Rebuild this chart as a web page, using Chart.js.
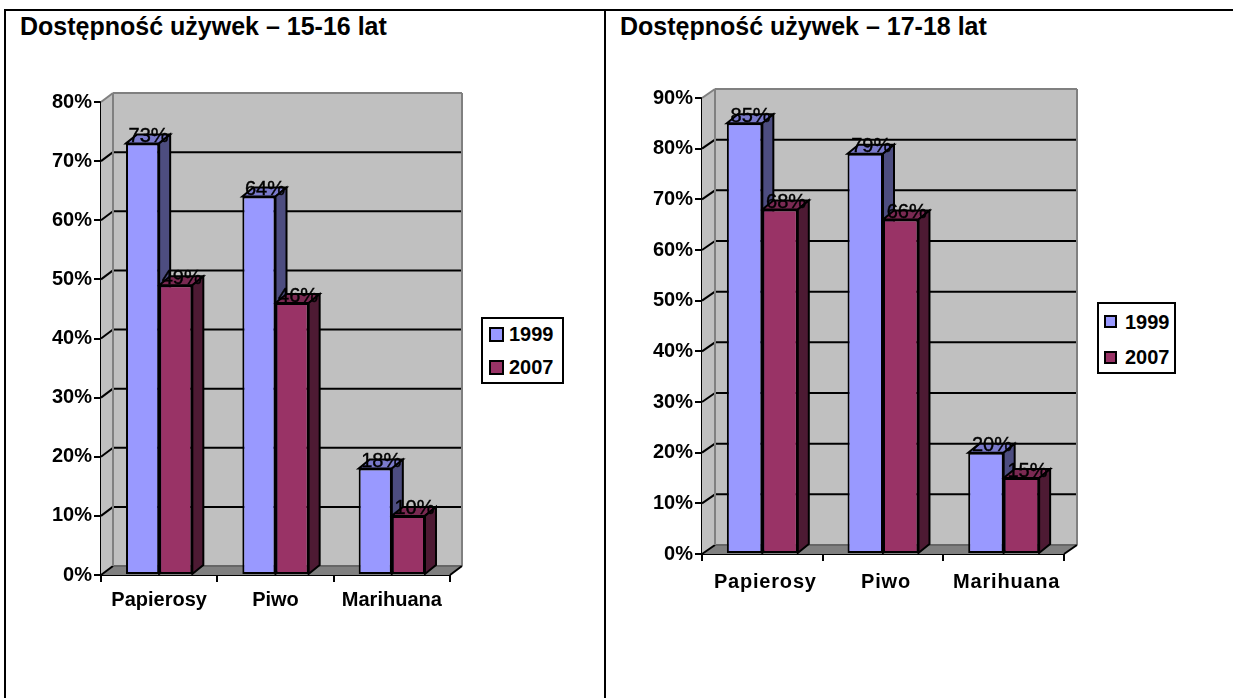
<!DOCTYPE html>
<html>
<head>
<meta charset="utf-8">
<script src="https://cdn.jsdelivr.net/npm/chart.js@4"></script>
<style>
  html, body { margin: 0; padding: 0; background: #fff; overflow: hidden; }
  body { width: 1233px; height: 698px; position: relative; font-family: "Liberation Sans", Arial, sans-serif; color: #000; }
  .rule { position: absolute; background: #000; }
  .title { position: absolute; top: 10px; font-weight: bold; font-size: 25px; line-height: 32px; white-space: nowrap; }
  canvas { position: absolute; }
  .legend { position: absolute; box-sizing: border-box; border: 2px solid #000; background: #fff; font-weight: bold; font-size: 20px; }
  .legend span { position: absolute; white-space: nowrap; line-height: 20px; }
  .legend i { position: absolute; box-sizing: border-box; border: 2px solid #000; }
</style>
</head>
<body>
<div class="rule" style="left:4px;top:9px;width:1229px;height:2px"></div>
<div class="rule" style="left:4px;top:9px;width:2px;height:689px"></div>
<div class="rule" style="left:604px;top:9px;width:2px;height:689px"></div>
<div class="title" style="left:20px">Dostępność używek – 15-16 lat</div>
<div class="title" style="left:620px">Dostępność używek – 17-18 lat</div>
<canvas id="chartYounger" width="470" height="600" style="left:8px;top:40px"></canvas>
<canvas id="chartOlder" width="470" height="600" style="left:610px;top:40px"></canvas>
<div class="legend" id="legendYounger" style="left:481px;top:317px;width:83px;height:67px"></div>
<div class="legend" id="legendOlder" style="left:1097px;top:302px;width:79px;height:72px"></div>
<script>
const categories = ['Papierosy', 'Piwo', 'Marihuana'];
const seriesNames = ['1999', '2007'];

const younger1999 = [73, 64, 18];
const younger2007 = [49, 46, 10];
const youngerTicks = [0, 10, 20, 30, 40, 50, 60, 70, 80];

const older1999 = [85, 79, 20];
const older2007 = [68, 66, 15];
const olderTicks = [0, 10, 20, 30, 40, 50, 60, 70, 80, 90];

const frontColors = ['#9999ff', '#993366'];
const sideColors = ['#4d4d80', '#4d1a33'];
const topColors = ['#7a7acc', '#7a2952'];

// walls, floor and the depth of the bars; the fronts are plain Chart.js bars
const depthPlugin = {
  id: 'depth',
  beforeDatasetsDraw(chart, args, opts) {
    const ctx = chart.ctx, x = chart.scales.x, y = chart.scales.y;
    const a = chart.chartArea;
    const dx = opts.wallX, dy = opts.wallY;
    const poly = (pts, fill) => {
      ctx.beginPath();
      pts.forEach((p, i) => i ? ctx.lineTo(p[0], p[1]) : ctx.moveTo(p[0], p[1]));
      ctx.closePath();
      if (fill) { ctx.fillStyle = fill; ctx.fill(); }
    };
    const line = (x1, y1, x2, y2, color, w) => {
      ctx.beginPath();
      ctx.moveTo(x1, y1);
      ctx.lineTo(x2, y2);
      ctx.strokeStyle = color;
      ctx.lineWidth = w;
      ctx.stroke();
    };
    ctx.save();
    // back wall and left wall
    poly([[a.left + dx, a.top - dy], [a.right + dx, a.top - dy], [a.right + dx, a.bottom - dy], [a.left + dx, a.bottom - dy]], '#c0c0c0');
    poly([[a.left, a.top], [a.left + dx, a.top - dy], [a.left + dx, a.bottom - dy], [a.left, a.bottom]], '#c0c0c0');
    // floor
    poly([[a.left, a.bottom], [a.left + dx, a.bottom - dy], [a.right + dx, a.bottom - dy], [a.right, a.bottom]], '#808080');
    line(a.left + dx, a.bottom - dy, a.right + dx, a.bottom - dy, '#666', 2);
    // grid lines, bending round the corner of the walls
    y.ticks.forEach(t => {
      const py = y.getPixelForValue(t.value);
      if (t.value === y.max) return;
      if (t.value > y.min) line(a.left + dx, py - dy, a.right + dx, py - dy, '#000', 2);
      line(a.left, py, a.left + dx, py - dy, '#000', 2);
    });
    // wall edges
    line(a.left, a.top, a.left + dx, a.top - dy, '#808080', 2);
    line(a.left + dx, a.top - dy, a.right + dx, a.top - dy, '#808080', 2);
    line(a.left + dx, a.top - dy, a.left + dx, a.bottom - dy, '#808080', 2);
    line(a.right + dx, a.top - dy, a.right + dx, a.bottom - dy, '#808080', 2);
    line(a.right, a.bottom, a.right + dx, a.bottom - dy, '#000', 2);
    // bar tops and sides
    const bx = opts.barX, by = opts.barY;
    ctx.lineJoin = 'miter';
    chart.data.datasets.forEach((ds, di) => {
      chart.getDatasetMeta(di).data.forEach(bar => {
        const p = bar.getProps(['x', 'y', 'base', 'width']);
        const l = p.x - p.width / 2, r = p.x + p.width / 2;
        poly([[l, p.y], [l + bx, p.y - by], [r + bx, p.y - by], [r, p.y]], topColors[di]);
        ctx.strokeStyle = '#000'; ctx.lineWidth = 2; ctx.stroke();
        poly([[r, p.y], [r + bx, p.y - by], [r + bx, p.base - by], [r, p.base]], sideColors[di]);
        ctx.strokeStyle = '#000'; ctx.lineWidth = 2; ctx.stroke();
      });
    });
    ctx.restore();
  },
  afterDatasetsDraw(chart, args, opts) {
    const ctx = chart.ctx;
    ctx.save();
    ctx.font = opts.labelFont;
    ctx.fillStyle = '#000';
    ctx.strokeStyle = '#000';
    ctx.lineWidth = 0.4;
    ctx.textAlign = 'center';
    ctx.textBaseline = 'alphabetic';
    chart.data.datasets.forEach((ds, di) => {
      chart.getDatasetMeta(di).data.forEach((bar, i) => {
        const text = ds.data[i] + '%';
        ctx.fillText(text, bar.x + opts.labelShift, bar.y - 1.5);
        ctx.strokeText(text, bar.x + opts.labelShift, bar.y - 1.5);
      });
    });
    ctx.restore();
  }
};

function drawChart(id, values, tickValues, box, area, groupShare, xLabels) {
  const ctx = document.getElementById(id);
  return new Chart(ctx, {
    type: 'bar',
    data: {
      labels: categories,
      datasets: values.map((v, i) => ({
        label: seriesNames[i],
        data: v,
        backgroundColor: frontColors[i],
        borderColor: '#000',
        borderWidth: 2,
        borderSkipped: false,
        categoryPercentage: groupShare,
        barPercentage: 1
      }))
    },
    options: {
      responsive: false,
      animation: false,
      devicePixelRatio: 1,
      events: [],
      layout: {
        autoPadding: false,
        padding: {
          left: 0,
          top: area.top - box.top,
          right: box.left + ctx.width - area.right,
          bottom: box.top + ctx.height - area.bottom - 44
        }
      },
      plugins: {
        legend: { display: false },
        title: { display: false },
        tooltip: { enabled: false },
        depth: { wallX: area.wallX, wallY: area.wallY, barX: 11, barY: 9, labelFont: '20px "Liberation Sans"', labelShift: 6 }
      },
      scales: {
        x: {
          afterFit(s) { s.height = 44; },
          border: { color: '#000', width: 2 },
          grid: { drawOnChartArea: false, color: '#000', lineWidth: 2, tickLength: 7 },
          ticks: {
            color: '#000',
            font: { family: 'Liberation Sans', size: 20, weight: 'bold' },
            padding: xLabels.padding,
            labelOffset: xLabels.shift,
            maxRotation: 0
          }
        },
        y: {
          min: tickValues[0],
          max: tickValues[tickValues.length - 1],
          afterFit(s) { s.width = area.left - box.left; },
          afterBuildTicks(s) { s.ticks = tickValues.map(v => ({ value: v })); },
          border: { color: '#000', width: 2 },
          grid: { drawOnChartArea: false, color: '#000', lineWidth: 2, tickLength: 7 },
          ticks: { color: '#000', font: { family: 'Liberation Sans', size: 20, weight: 'bold' }, padding: 2, callback: v => v + '%' }
        }
      }
    },
    plugins: [depthPlugin, {
      id: 'spacedLabels',
      afterLayout(chart) {
        if (!xLabels.spacing || chart.scales.x.spaced) return;
        const s = chart.scales.x, c = chart.ctx, orig = s.drawLabels.bind(s);
        s.spaced = true;
        s.drawLabels = a => { c.letterSpacing = xLabels.spacing; orig(a); c.letterSpacing = '0px'; };
      }
    }]
  });
}

function fillLegend(id, rows) {
  const el = document.getElementById(id);
  seriesNames.forEach((name, i) => {
    const sw = document.createElement('i');
    sw.style.cssText = `left:${rows.swatchX}px;top:${rows.swatchY[i]}px;width:${rows.swatch}px;height:${rows.swatch}px;background:${frontColors[i]}`;
    const tx = document.createElement('span');
    tx.textContent = name;
    tx.style.cssText = `left:${rows.textX}px;top:${rows.textY[i]}px`;
    el.append(sw, tx);
  });
}

drawChart('chartYounger', [younger1999, younger2007], youngerTicks,
  { left: 8, top: 40 }, { left: 101, right: 450, top: 102, bottom: 575, wallX: 12, wallY: 9 }, 0.57,
  { padding: 6, shift: 0 });
drawChart('chartOlder', [older1999, older2007], olderTicks,
  { left: 610, top: 40 }, { left: 702, right: 1064, top: 98, bottom: 554, wallX: 13, wallY: 9 }, 0.588,
  { padding: 9, shift: 3, spacing: '0.8px' });

fillLegend('legendYounger', { swatchX: 6, swatchY: [8, 41], swatch: 15, textX: 26, textY: [5, 38] });
fillLegend('legendOlder', { swatchX: 5, swatchY: [11, 47], swatch: 13, textX: 26, textY: [8, 43] });
</script>
</body>
</html>
